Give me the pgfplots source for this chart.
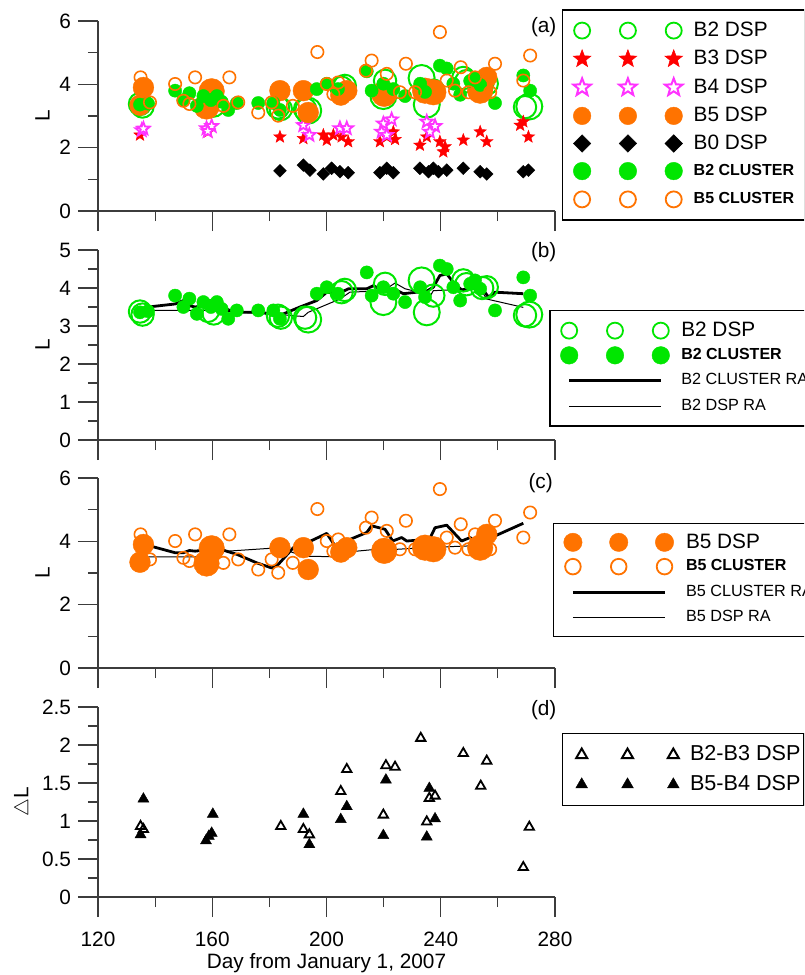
\documentclass[border=0pt]{standalone}
\usepackage{fontspec}
\setmainfont{Liberation Sans}
\usepackage{pgfplots}
\usepackage{pgfplotstable}
\pgfplotsset{compat=1.18}
\usetikzlibrary{plotmarks}

\definecolor{grn}{RGB}{0,230,0}
\definecolor{org}{RGB}{255,115,0}
\definecolor{rd}{RGB}{255,0,0}
\definecolor{mag}{RGB}{255,51,255}
\definecolor{axc}{RGB}{60,60,60}

\newcommand\fa{\fontsize{10.4}{12}\selectfont}
\newcommand\fd{\fontsize{10.8}{12}\selectfont}
\newcommand\fb{\fontsize{8}{9.5}\selectfont\bfseries}
\newcommand\fc{\fontsize{8.1}{9.5}\selectfont}

\pgfdeclareplotmark{fstar}{%
 \pgfpathmoveto{\pgfpointpolar{90}{\pgfplotmarksize}}%
 \pgfpathlineto{\pgfpointpolar{126}{0.42\pgfplotmarksize}}%
 \pgfpathlineto{\pgfpointpolar{162}{\pgfplotmarksize}}%
 \pgfpathlineto{\pgfpointpolar{198}{0.42\pgfplotmarksize}}%
 \pgfpathlineto{\pgfpointpolar{234}{\pgfplotmarksize}}%
 \pgfpathlineto{\pgfpointpolar{270}{0.42\pgfplotmarksize}}%
 \pgfpathlineto{\pgfpointpolar{306}{\pgfplotmarksize}}%
 \pgfpathlineto{\pgfpointpolar{342}{0.42\pgfplotmarksize}}%
 \pgfpathlineto{\pgfpointpolar{18}{\pgfplotmarksize}}%
 \pgfpathlineto{\pgfpointpolar{54}{0.42\pgfplotmarksize}}%
 \pgfpathclose
 \pgfusepathqfillstroke}
\pgfdeclareplotmark{sqd}{%
 \pgfpathmoveto{\pgfqpoint{0pt}{\pgfplotmarksize}}%
 \pgfpathlineto{\pgfqpoint{\pgfplotmarksize}{0pt}}%
 \pgfpathlineto{\pgfqpoint{0pt}{-\pgfplotmarksize}}%
 \pgfpathlineto{\pgfqpoint{-\pgfplotmarksize}{0pt}}%
 \pgfpathclose
 \pgfusepathqfillstroke}

\pgfplotsset{
 panel/.style={scale only axis, width=228.5pt, height=95pt,
  xmin=120, xmax=280, axis x line*=bottom, axis y line*=left,
  tick align=outside, xtick={120,160,...,280}, minor x tick num=1,
  major tick length=10pt, minor tick length=5pt,
  every tick/.style={axc, line width=0.6pt},
  axis line style={axc, line width=0.6pt},
  tick label style={font=\fa}, label style={font=\fa},
  /pgf/number format/assume math mode=true,
  clip=false, legend cell align=left,
  ylabel style={yshift=-2pt}},
 leg/.style={legend style={draw=black, line width=0.7pt, fill=white,
  anchor=north west, column sep=0pt, row sep=0pt,
  nodes={inner xsep=0pt, inner ysep=0pt, text depth=0.15em, font=\fa}}},
 tm/.style n args={3}{legend image code/.code={%
  \path (-#1,-#3) (#2,#3);
  \draw[##1] plot[only marks, mark repeat=1] coordinates {(0pt,0pt) (22.9pt,0pt) (45.8pt,0pt)};}},
 tl/.style n args={3}{legend image code/.code={%
  \path (-#1,-#3) (#2,#3);
  \draw[##1] (0pt,0pt) -- (45.8pt,0pt);}},
}

% B2 DSP, normal and large rings
\pgfplotstableread{
d L
134.7 3.38
135.6 3.30
158.5 3.40
160.5 3.33
183.0 3.27
184.0 3.22
192.5 3.22
205.3 3.89
206.4 3.95
220.5 4.11
237.4 3.80
247.9 4.20
249.0 4.10
254.5 4.00
256.1 4.02
269.5 3.28
}\BtwoDSPa
\pgfplotstableread{
d L
193.6 3.17
219.9 3.63
233.3 4.20
235.1 3.36
271.0 3.30
}\BtwoDSPb

\pgfplotstableread{
d L
134.7 3.36
137.5 3.39
147.0 3.80
149.9 3.50
152.0 3.72
154.6 3.32
156.9 3.63
159.5 3.50
161.6 3.63
163.3 3.45
165.6 3.19
168.6 3.41
176.1 3.41
181.4 3.41
183.7 3.19
196.6 3.85
200.1 4.02
204.0 3.85
214.1 4.41
215.8 3.80
219.9 4.02
223.4 3.85
227.5 3.63
232.8 4.02
234.5 3.76
239.7 4.59
242.1 4.50
244.4 4.02
246.8 3.67
250.3 4.11
252.0 4.20
253.8 3.98
259.0 3.41
268.9 4.28
271.3 3.80
}\BtwoCL

% B5 DSP, normal and large discs
\pgfplotstableread{
d L
135.9 3.90
134.7 3.34
183.7 3.80
191.9 3.80
193.6 3.11
205.0 3.66
207.1 3.80
256.1 4.22
}\BfiveDSPa
\pgfplotstableread{
d L
159.8 3.78
158.0 3.30
220.2 3.70
234.5 3.80
237.4 3.75
253.8 3.80
}\BfiveDSPb

\pgfplotstableread{
d L
134.9 4.22
138.2 3.43
147.0 4.01
149.9 3.48
152.0 3.38
154.0 4.22
163.9 3.32
166.0 4.22
169.1 3.43
176.1 3.11
180.8 3.43
183.1 3.01
188.2 3.32
196.8 5.02
200.1 4.01
202.4 3.69
204.1 4.06
213.8 4.43
215.8 4.75
221.1 4.33
225.7 3.75
227.8 4.65
231.0 3.75
239.7 5.65
242.1 4.12
245.0 3.80
247.0 4.54
249.7 3.75
252.0 4.22
257.3 3.75
259.0 4.65
268.9 4.12
271.3 4.91
}\BfiveCL

\pgfplotstableread{
d L
134.7 2.40
158.6 2.50
183.7 2.34
191.9 2.29
198.9 2.40
200.1 2.24
202.4 2.40
205.3 2.34
207.6 2.19
218.7 2.19
221.1 2.34
223.4 2.50
224.0 2.26
232.7 2.08
235.1 2.34
239.7 2.19
241.5 2.03
240.9 1.87
247.9 2.24
253.8 2.50
256.1 2.19
267.8 2.71
268.9 2.82
270.7 2.34
}\BthreeDSP

\pgfplotstableread{
d L
135.3 2.55
135.9 2.60
158.0 2.61
159.8 2.68
158.4 2.52
191.9 2.71
194.0 2.40
204.7 2.61
207.1 2.61
219.9 2.76
222.8 2.89
219.3 2.50
221.1 2.40
235.1 2.82
238.0 2.68
236.2 2.50
}\BfourDSP

\pgfplotstableread{
d L
183.7 1.27
191.9 1.45
194.2 1.29
198.9 1.17
201.8 1.35
204.7 1.24
207.6 1.21
218.7 1.21
221.1 1.35
223.4 1.21
232.7 1.35
235.7 1.24
237.4 1.35
239.2 1.24
242.1 1.29
247.9 1.35
253.8 1.24
256.1 1.17
268.9 1.24
270.7 1.29
}\BzeroDSP

\pgfplotstableread{
d L
137.6 3.50
147.0 3.58
149.9 3.67
151.6 3.54
154.0 3.50
156.9 3.54
159.2 3.45
161.0 3.54
163.3 3.50
166.2 3.41
168.6 3.36
175.6 3.36
181.4 3.32
183.7 3.28
190.7 3.50
196.6 3.67
200.1 3.89
204.1 3.85
207.7 3.98
214.1 3.98
216.4 4.06
219.9 3.93
223.4 3.98
226.9 3.85
231.6 3.89
234.5 3.89
237.4 4.02
239.7 4.33
242.1 4.37
244.4 4.15
247.3 3.95
252.0 4.02
253.8 4.06
256.7 3.76
259.0 3.89
268.9 3.85
}\BtwoCLRA

\pgfplotstableread{
d L
135.9 3.41
158.0 3.41
169.7 3.36
183.7 3.30
191.9 3.25
193.6 3.36
204.7 3.71
208.2 3.89
219.9 3.93
224.0 4.13
227.5 3.98
234.5 3.85
235.7 3.71
237.4 3.93
253.8 3.98
256.1 3.71
268.9 3.49
}\BtwoDSPRA

\pgfplotstableread{
d L
137.6 3.87
147.0 3.64
149.9 3.64
152.0 3.71
154.0 3.69
156.9 3.72
159.2 3.53
162.1 3.48
163.9 3.72
168.6 3.59
175.6 3.32
180.8 3.16
183.1 3.27
188.4 3.80
191.9 3.90
200.1 4.25
203.6 3.77
207.7 4.04
214.1 4.28
215.8 4.49
220.5 4.38
223.2 4.01
226.3 4.12
228.1 4.01
231.0 4.03
234.5 3.77
238.0 4.43
242.1 4.51
247.3 4.01
250.3 4.12
253.8 3.85
259.0 4.17
268.9 4.57
}\BfiveCLRA

\pgfplotstableread{
d L
135.9 3.51
159.2 3.51
160.4 3.66
183.7 3.80
188.4 3.64
193.1 3.53
204.7 3.51
207.1 3.66
219.9 3.77
221.1 3.73
234.5 3.80
253.8 3.87
}\BfiveDSPRA

\pgfplotstableread{
d L
134.9 0.93
135.9 0.89
184.0 0.93
191.9 0.89
194.0 0.82
205.0 1.39
207.1 1.68
219.9 1.08
220.8 1.73
224.0 1.71
233.0 2.09
235.1 0.99
236.0 1.30
238.0 1.33
247.9 1.89
254.0 1.46
256.1 1.79
268.9 0.39
271.0 0.92
}\DBtwoBthree

\pgfplotstableread{
d L
135.9 1.29
134.9 0.82
157.8 0.74
158.8 0.80
159.8 0.84
160.2 1.09
191.9 1.09
194.0 0.69
205.0 1.02
207.1 1.19
220.8 1.54
219.9 0.81
236.0 1.43
238.0 1.03
235.1 0.79
}\DBfiveBfour

\begin{document}
\begin{tikzpicture}
\clip[use as bounding box] (0,0) rectangle (402pt,-487.5pt);

% ---------------- (a)
\begin{axis}[panel, leg, at={(49pt,-105.5pt)}, anchor=south west,
  ymin=0, ymax=6, ytick={0,2,4,6}, minor y tick num=1,
  xticklabels={}, ylabel={L},
  legend style={at={(1.0147,1.0616)}, inner xsep=5.35pt, inner ysep=3.05pt}]
\addlegendimage{tm={4pt}{55.3pt}{6.8pt}, only marks, mark=o, draw=grn, mark size=4pt, line width=0.9pt}
\addlegendentry{B2 DSP}
\addlegendimage{tm={4pt}{55.3pt}{6.8pt}, only marks, mark=fstar, draw=rd, fill=rd, mark size=4.6pt, line width=0.3pt}
\addlegendentry{B3 DSP}
\addlegendimage{tm={4pt}{55.3pt}{6.8pt}, only marks, mark=fstar, draw=mag, fill=white, mark size=4.6pt, line width=1pt}
\addlegendentry{B4 DSP}
\addlegendimage{tm={4pt}{55.3pt}{6.8pt}, only marks, mark=*, draw=org, fill=org, mark size=4.4pt, line width=0.2pt}
\addlegendentry{B5 DSP}
\addlegendimage{tm={4pt}{55.3pt}{6.8pt}, only marks, mark=sqd, draw=black, fill=black, mark size=4.4pt, line width=0.2pt}
\addlegendentry{B0 DSP}
\addlegendimage{tm={4pt}{55.3pt}{6.8pt}, only marks, mark=*, draw=grn, fill=grn, mark size=4.4pt, line width=0.2pt}
\addlegendentry{\fb B2 CLUSTER}
\addlegendimage{tm={4pt}{55.3pt}{6.8pt}, only marks, mark=o, draw=org, mark size=4pt, line width=0.9pt}
\addlegendentry{\fb B5 CLUSTER}

\addplot[forget plot, only marks, mark=o, mark size=5.6pt, draw=grn, line width=1pt] table[x=d,y=L] {\BtwoDSPa};
\addplot[forget plot, only marks, mark=o, mark size=6.5pt, draw=grn, line width=1pt] table[x=d,y=L] {\BtwoDSPb};
\addplot[forget plot, only marks, mark=fstar, mark size=3.3pt, draw=rd, fill=rd, line width=0.2pt] table[x=d,y=L] {\BthreeDSP};
\addplot[forget plot, only marks, mark=fstar, mark size=3.3pt, draw=mag, fill=white, line width=0.9pt] table[x=d,y=L] {\BfourDSP};
\addplot[forget plot, only marks, mark=*, mark size=5.2pt, draw=org, fill=org, line width=0.2pt] table[x=d,y=L] {\BfiveDSPa};
\addplot[forget plot, only marks, mark=*, mark size=6.4pt, draw=org, fill=org, line width=0.2pt] table[x=d,y=L] {\BfiveDSPb};
\addplot[forget plot, only marks, mark=sqd, mark size=3.2pt, draw=black, fill=black, line width=0.2pt] table[x=d,y=L] {\BzeroDSP};
\addplot[forget plot, only marks, mark=*, mark size=3.3pt, draw=grn, fill=grn, line width=0.2pt] table[x=d,y=L] {\BtwoCL};
\addplot[forget plot, only marks, mark=o, mark size=3.1pt, draw=org, line width=0.8pt] table[x=d,y=L] {\BfiveCL};
\node[anchor=east, font=\fa, inner sep=0pt] at (rel axis cs:1.004,0.966) {(a)};
\end{axis}

% ---------------- (b)
\begin{axis}[panel, leg, at={(49pt,-220pt)}, anchor=south west,
  ymin=0, ymax=5, ytick={0,1,...,5}, minor y tick num=1,
  xticklabels={}, ylabel={L},
  legend style={at={(0.9875,0.684)}, inner xsep=4.85pt, inner ysep=3.6pt}]
\addlegendimage{tm={4pt}{55.3pt}{5.9pt}, only marks, mark=o, draw=grn, mark size=4pt, line width=0.9pt}
\addlegendentry{B2 DSP}
\addlegendimage{tm={4pt}{55.3pt}{5.9pt}, only marks, mark=*, draw=grn, fill=grn, mark size=4.4pt, line width=0.2pt}
\addlegendentry{\fb B2 CLUSTER}
\addlegendimage{tl={4pt}{55.3pt}{5.9pt}, black, line width=1.5pt}
\addlegendentry{\fc B2 CLUSTER RA}
\addlegendimage{tl={4pt}{55.3pt}{5.9pt}, black, line width=0.6pt}
\addlegendentry{\fc B2 DSP RA}

\addplot[forget plot, only marks, mark=o, mark size=5.6pt, draw=grn, line width=1pt] table[x=d,y=L] {\BtwoDSPa};
\addplot[forget plot, only marks, mark=o, mark size=6.5pt, draw=grn, line width=1pt] table[x=d,y=L] {\BtwoDSPb};
\addplot[forget plot, only marks, mark=*, mark size=3.3pt, draw=grn, fill=grn, line width=0.2pt] table[x=d,y=L] {\BtwoCL};
\addplot[forget plot, black, line width=1.4pt, line join=round] table[x=d,y=L] {\BtwoCLRA};
\addplot[forget plot, black, line width=0.5pt] table[x=d,y=L] {\BtwoDSPRA};
\node[anchor=east, font=\fa, inner sep=0pt] at (rel axis cs:1.004,0.991) {(b)};
\end{axis}

% ---------------- (c)
\begin{axis}[panel, leg, at={(49pt,-334pt)}, anchor=south west,
  ymin=0, ymax=6, ytick={0,2,4,6}, minor y tick num=1,
  xticklabels={}, ylabel={L},
  legend style={at={(0.995,0.763)}, inner xsep=5pt, inner ysep=3.4pt}]
\addlegendimage{tm={4pt}{55.8pt}{5.8pt}, only marks, mark=*, draw=org, fill=org, mark size=4.6pt, line width=0.2pt}
\addlegendentry{B5 DSP}
\addlegendimage{tm={4pt}{55.8pt}{5.8pt}, only marks, mark=o, draw=org, mark size=3.9pt, line width=0.9pt}
\addlegendentry{\fb B5 CLUSTER}
\addlegendimage{tl={4pt}{55.8pt}{5.8pt}, black, line width=1.5pt}
\addlegendentry{\fc B5 CLUSTER RA}
\addlegendimage{tl={4pt}{55.8pt}{5.8pt}, black, line width=0.6pt}
\addlegendentry{\fc B5 DSP RA}

\addplot[forget plot, only marks, mark=*, mark size=5.2pt, draw=org, fill=org, line width=0.2pt] table[x=d,y=L] {\BfiveDSPa};
\addplot[forget plot, only marks, mark=*, mark size=6.4pt, draw=org, fill=org, line width=0.2pt] table[x=d,y=L] {\BfiveDSPb};
\addplot[forget plot, only marks, mark=o, mark size=3.1pt, draw=org, line width=0.8pt] table[x=d,y=L] {\BfiveCL};
\addplot[forget plot, black, line width=1.4pt, line join=round] table[x=d,y=L] {\BfiveCLRA};
\addplot[forget plot, black, line width=0.5pt] table[x=d,y=L] {\BfiveDSPRA};
\node[anchor=east, font=\fa, inner sep=0pt] at (rel axis cs:0.996,0.974) {(c)};
\end{axis}

% ---------------- (d)
\begin{axis}[panel, leg, at={(49pt,-448.5pt)}, anchor=south west,
  ymin=0, ymax=2.5, ytick={0,0.5,...,2.5}, minor y tick num=1,
  xlabel={Day from January 1, 2007}, ylabel={$\triangle$L},
  xticklabel style={yshift=-4pt}, xlabel style={yshift=3.5pt},
  legend style={at={(1.0147,0.865)}, inner xsep=1.85pt, inner ysep=3.2pt,
    nodes={font=\fd}}]
\addlegendimage{tm={7.3pt}{53.65pt}{7.1pt}, only marks, mark=triangle, draw=black, fill=white, mark size=3.2pt, line width=1pt}
\addlegendentry{B2-B3 DSP}
\addlegendimage{tm={7.3pt}{53.65pt}{7.1pt}, only marks, mark=triangle*, draw=black, fill=black, mark size=3.4pt, line width=0.2pt}
\addlegendentry{B5-B4 DSP}

\addplot[forget plot, only marks, mark=triangle, mark size=2.7pt, draw=black, fill=white, line width=0.9pt] table[x=d,y=L] {\DBtwoBthree};
\addplot[forget plot, only marks, mark=triangle*, mark size=3.2pt, draw=black, fill=black, line width=0.2pt] table[x=d,y=L] {\DBfiveBfour};
\node[anchor=east, font=\fa, inner sep=0pt] at (rel axis cs:1.004,0.984) {(d)};
\end{axis}
\end{tikzpicture}
\end{document}
